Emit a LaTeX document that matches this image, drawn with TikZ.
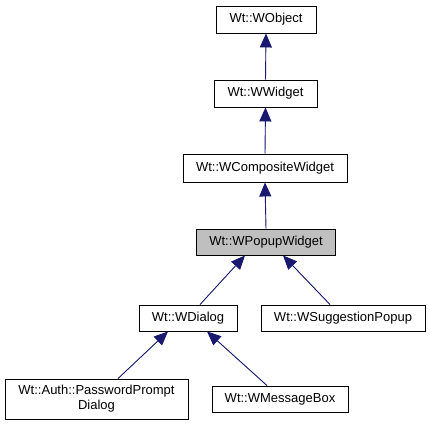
\documentclass[tikz,border=0pt]{standalone}
\usepackage{fontspec}
\setmainfont{Liberation Sans}
\usetikzlibrary{arrows.meta}
\definecolor{edgeblue}{HTML}{191970}
\definecolor{curgray}{HTML}{BFBFBF}
\tikzset{
    cls/.style={draw=black, line width=0.9pt, fill=white, inner sep=2pt, align=center,
        font=\fontsize{13}{15}\selectfont},
    inherit/.style={draw=edgeblue, line width=0.9pt, -{Triangle[length=14pt, width=12pt]}, fill=edgeblue}
}
\begin{document}
\begin{tikzpicture}[x=1pt, y=-1pt]
        % Canvas
        \useasboundingbox (0,0) rectangle (430,425);

        % Classes
        \node[cls, minimum width=100, minimum height=27] (obj) at (266, 19.5) {Wt::WObject};
        \node[cls, minimum width=103, minimum height=27] (widget) at (265.5, 93.5) {Wt::WWidget};
        \node[cls, minimum width=164, minimum height=28] (comp) at (265, 168) {Wt::WCompositeWidget};
        \node[cls, fill=curgray, minimum width=139, minimum height=26] (popup) at (266, 242) {Wt::WPopupWidget};
        \node[cls, minimum width=98, minimum height=26] (dialog) at (188, 318) {Wt::WDialog};
        \node[cls, minimum width=164, minimum height=26] (sugg) at (343, 318) {Wt::WSuggestionPopup};
        \node[cls, minimum width=183, minimum height=40, inner sep=1pt] (pwd) at (96.5, 399) {Wt::Auth::PasswordPrompt\\Dialog};
        \node[cls, minimum width=136, minimum height=26] (msg) at (280, 399) {Wt::WMessageBox};

        % Inheritance
        \draw[inherit] (widget.north) -- (obj.south);
        \draw[inherit] (comp.north) -- (widget.south);
        \draw[inherit] (popup.north) -- (comp.south);
        \draw[inherit] ([xshift=12pt]dialog.north) -- ([xshift=-21pt]popup.south);
        \draw[inherit] ([xshift=-13pt]sugg.north) -- ([xshift=17pt]popup.south);
        \draw[inherit] ([xshift=21.5pt]pwd.north) -- ([xshift=-20pt]dialog.south);
        \draw[inherit] ([xshift=-13pt]msg.north) -- ([xshift=19pt]dialog.south);
    \end{tikzpicture}
\end{document}
